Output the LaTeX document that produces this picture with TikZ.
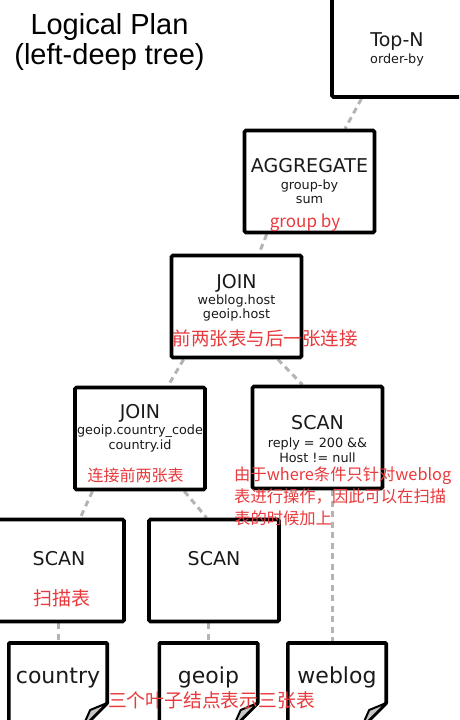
\documentclass[tikz,border=0pt]{standalone}
\usepackage{fontspec}
\setmainfont{DejaVu Sans}
\newfontfamily\titlefont{Liberation Sans}
\newfontfamily\cjk{Noto Sans CJK SC}
\usetikzlibrary{calc, backgrounds}
\definecolor{noteRed}{HTML}{E8393C}
\definecolor{linkGray}{HTML}{B4B4B4}
\definecolor{textDark}{HTML}{1A1A1A}
\newcommand\optitle{\fontsize{19}{14.5}\selectfont}
\newcommand\opdetail{\fontsize{12.8}{14.5}\selectfont}

\begin{document}
\begin{tikzpicture}[x=1pt, y=-1pt,
    opbox/.style={draw, line width=3.6pt, fill=white, rounded corners=1.5pt,
      minimum width=130pt, minimum height=102pt, inner sep=0pt,
      align=center, text=textDark, font=\optitle},
    leaf/.style={anchor=north, minimum width=98pt, minimum height=102pt,
      inner sep=0pt, text height=16pt, text depth=38pt, text=textDark,
      font=\fontsize{22}{26}\selectfont},
    leafline/.style={line width=3.6pt, line join=round, fill=white},
    link/.style={draw=linkGray, line width=3pt, dash pattern=on 6pt off 4.5pt},
    note/.style={text=noteRed, inner sep=0pt, font=\cjk\fontsize{#1}{22}\selectfont}]
  \useasboundingbox (0,0) rectangle (459,720);
  \clip (0,0) rectangle (459,720);

  \node[font=\titlefont\fontsize{29}{30}\selectfont, align=center] (title) at (109.5,42)
    {Logical Plan\\(left-deep tree)};

  % operators
  \node[opbox] (topn) at (397,46) {\rule{0pt}{21pt}Top-N\\[2pt] \opdetail order-by};
  \node[opbox] (agg) at (309.5,181.5) {AGGREGATE\\[2pt] \opdetail group-by\\ \opdetail sum};
  \node[opbox] (join1) at (236.5,306.5)
    {JOIN\\[1pt] \opdetail weblog.host\\ \opdetail geoip.host\\[5pt]\mbox{}};
  \node[opbox] (join2) at (140,438.5)
    {JOIN\\[2pt] \opdetail geoip.country\_code\\ \opdetail country.id\\[9pt]\mbox{}};
  \node[opbox] (scanw) at (317.5,437.5)
    {\rule{0pt}{17pt}SCAN\\[4pt] \opdetail reply = 200 \&\&\\ \opdetail Host != null};
  \node[opbox] (scanc) at (59,570.5) {SCAN\\[9.5pt]\mbox{}};
  \node[opbox] (scang) at (214,570.5) {SCAN\\[9.5pt]\mbox{}};

  % tables
  \foreach \n/\x in {country/58, geoip/208.5, weblog/337}
    \node[leaf] (\n) at (\x,643) {\n};

  \begin{scope}[on background layer]
    \draw[link] (topn.236) -- (agg.56);
    \draw[link] (agg.231) -- (join1.67);
    \draw[link] (join1.225) -- (join2.62);
    \draw[link] (join1.-52) -- (scanw.106);
    \draw[link] (join2.228) -- (scanc.68);
    \draw[link] (join2.-50) -- (scang.98);
    \draw[link] (scanc.south -| country.north) -- (country.north);
    \draw[link] (scang.south -| geoip.north) -- (geoip.north);
    \draw[link] (scanw.south -| weblog.95) -- (weblog.95);
    \foreach \n in {country, geoip, weblog}{
      \draw[leafline] (\n.north west) -- (\n.north east)
        -- ($(\n.north east)+(0,60)$) -- ($(\n.north east)+(-25,85)$)
        -- ($(\n.north west)+(0,85)$) -- cycle;
      \draw[line width=2pt, line join=round, fill=gray!45] ($(\n.north east)+(0,60)$)
        -- ($(\n.north east)+(-17,67)$) -- ($(\n.north east)+(-25,85)$) -- cycle;
    }
  \end{scope}

  % notes
  \node[note=17] (aggnote) at (305,223) {group by};
  \node[note=18.5] (join1note) at (265,338) {前两张表与后一张连接};
  \node[note=16] (join2note) at (135.5,475) {连接前两张表};
  \node[note=16.3, align=left, anchor=west] (wherenote) at (234,496.5)
    {由于where条件只针对weblog\\表进行操作，因此可以在扫描\\表的时候加上};
  \node[note=19] (scannote) at (62,598) {扫描表};
  \node[note=18.8] (leafnote) at (211.5,700) {三个叶子结点表示三张表};
\end{tikzpicture}
\end{document}
